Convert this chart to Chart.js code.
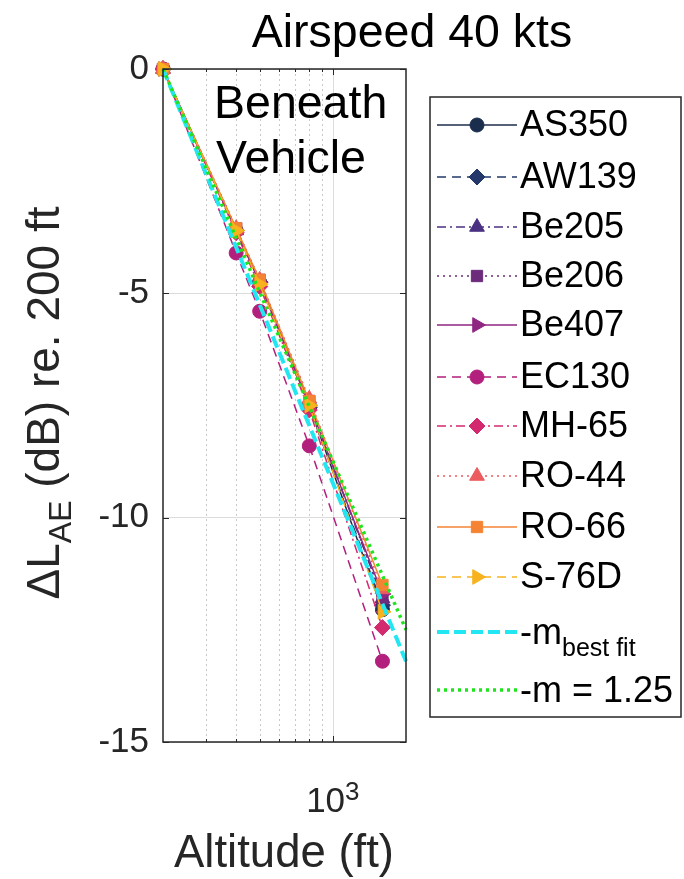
<!DOCTYPE html>
<html>
<head>
<meta charset="utf-8">
<title>Airspeed 40 kts</title>
<script src="https://cdn.jsdelivr.net/npm/chart.js@4.4.1/dist/chart.umd.min.js"></script>
<style>
  html, body { margin: 0; padding: 0; background: #fff; }
  #wrap { position: relative; width: 684px; height: 879px; }
</style>
</head>
<body>
<div id="wrap"><canvas id="chart" width="684" height="879"></canvas></div>
<script>
// Values (altitude in ft, level change in dB re. 200 ft)
const altitudes = [200, 400, 500, 800, 1600];
const vehicles = ['AS350', 'AW139', 'Be205', 'Be206', 'Be407', 'EC130', 'MH-65', 'RO-44', 'RO-66', 'S-76D'];

const as350 = [0, -3.6, -4.75, -7.5, -12.05];
const aw139 = [0, -3.6, -4.75, -7.55, -11.95];
const be205 = [0, -3.6, -4.75, -7.45, -11.8];
const be206 = [0, -3.55, -4.7, -7.4, -11.8];
const be407 = [0, -3.6, -4.75, -7.5, -11.7];
const ec130 = [0, -4.1, -5.4, -8.4, -13.2];
const mh65 = [0, -3.65, -4.85, -7.6, -12.45];
const ro44 = [0, -3.55, -4.7, -7.35, -11.6];
const ro66 = [0, -3.55, -4.7, -7.4, -11.5];
const s76d = [0, -3.6, -4.8, -7.5, -12.1];

// Reference slope lines (end points)
const fitAltitudes = [200, 2000];
const bestFit = [0, -13.2];
const slope125 = [0, -12.5];

// Axis ticks
const yTicks = [0, -5, -10, -15];
const xMinorGrid = [300, 400, 500, 600, 700, 800, 900];
const xMajorGrid = [1000];

(function() {
    'use strict';

    const FONT = '"Liberation Sans", Arial, Helvetica, sans-serif';
    const TEXT = '#262626';

    // Line styles MATLAB-like
    const SOLID = [];
    const DASH = [9, 6];
    const DASHDOT = [9, 4, 2, 4];
    const DOT = [2, 4];

    const seriesValues = [as350, aw139, be205, be206, be407, ec130, mh65, ro44, ro66, s76d];
    const colors = ['#1b2d4d', '#24386c', '#4b3182', '#6c2b7b', '#8f2682', '#b31f7c', '#d3296f', '#ec5b5d', '#f48434', '#f7b21d'];
    const dashes = [SOLID, DASH, DASHDOT, DOT, SOLID, DASH, DASHDOT, DOT, SOLID, DASH];
    const markers = [
        { style: 'circle', radius: 7, rotation: 0 },
        { style: 'rectRot', radius: 8, rotation: 0 },
        { style: 'triangle', radius: 8.5, rotation: 0 },
        { style: 'rect', radius: 8, rotation: 0 },
        { style: 'triangle', radius: 8.5, rotation: 90 },
        { style: 'circle', radius: 7, rotation: 0 },
        { style: 'rectRot', radius: 8, rotation: 0 },
        { style: 'triangle', radius: 8.5, rotation: 0 },
        { style: 'rect', radius: 8, rotation: 0 },
        { style: 'triangle', radius: 8.5, rotation: 90 }
    ];

    function toPoints(xs, ys) {
        return xs.map((x, i) => ({ x: x, y: ys[i] }));
    }

    const datasets = vehicles.map((name, i) => ({
        label: name,
        data: toPoints(altitudes, seriesValues[i]),
        borderColor: colors[i],
        backgroundColor: colors[i],
        borderWidth: 1.5,
        borderDash: dashes[i],
        pointStyle: markers[i].style,
        pointRadius: markers[i].radius,
        pointRotation: markers[i].rotation,
        pointBorderWidth: 1,
        order: 20 - i,
        clip: false
    }));

    datasets.push({
        label: 'best fit',
        data: toPoints(fitAltitudes, bestFit),
        borderColor: '#22e6f2',
        borderWidth: 4,
        borderDash: [12, 5],
        pointRadius: 0,
        order: 1,
        clip: false
    });
    datasets.push({
        label: 'm = 1.25',
        data: toPoints(fitAltitudes, slope125),
        borderColor: '#1fe51f',
        borderWidth: 3.5,
        borderDash: [3, 4],
        pointRadius: 0,
        order: 0,
        clip: false
    });

    // Draw a text made of pieces, some lowered (subscript) or raised (superscript)
    function drawRich(ctx, parts, x, y, align) {
        let total = 0;
        parts.forEach(p => {
            ctx.font = p.size + 'px ' + FONT;
            p.w = ctx.measureText(p.text).width;
            total += p.w;
        });
        let cx = align === 'center' ? x - total / 2 : x;
        ctx.textAlign = 'left';
        ctx.textBaseline = 'alphabetic';
        parts.forEach(p => {
            ctx.font = p.size + 'px ' + FONT;
            ctx.fillText(p.text, cx, y + (p.dy || 0));
            cx += p.w;
        });
    }

    const matlabLook = {
        id: 'matlabLook',
        beforeDatasetsDraw(chart) {
            const ctx = chart.ctx;
            const area = chart.chartArea;
            const xs = chart.scales.x;
            ctx.save();
            ctx.lineWidth = 1;
            ctx.strokeStyle = '#c8c8c8';
            ctx.setLineDash([2, 3]);
            xMinorGrid.forEach(v => {
                const px = Math.round(xs.getPixelForValue(v)) + 0.5;
                ctx.beginPath();
                ctx.moveTo(px, area.top);
                ctx.lineTo(px, area.bottom);
                ctx.stroke();
            });
            ctx.setLineDash([]);
            ctx.strokeStyle = '#dcdcdc';
            xMajorGrid.forEach(v => {
                const px = Math.round(xs.getPixelForValue(v)) + 0.5;
                ctx.beginPath();
                ctx.moveTo(px, area.top);
                ctx.lineTo(px, area.bottom);
                ctx.stroke();
            });
            ctx.restore();
        },
        afterDraw(chart) {
            const ctx = chart.ctx;
            const area = chart.chartArea;
            const xs = chart.scales.x;
            const ys = chart.scales.y;
            ctx.save();

            // axes box and inward ticks
            ctx.strokeStyle = '#262626';
            ctx.lineWidth = 1.5;
            ctx.strokeRect(area.left, area.top, area.right - area.left, area.bottom - area.top);
            ctx.lineWidth = 1;
            ctx.beginPath();
            yTicks.forEach(v => {
                const py = Math.round(ys.getPixelForValue(v)) + 0.5;
                ctx.moveTo(area.left, py); ctx.lineTo(area.left + 6, py);
                ctx.moveTo(area.right, py); ctx.lineTo(area.right - 6, py);
            });
            xMinorGrid.forEach(v => {
                const px = Math.round(xs.getPixelForValue(v)) + 0.5;
                ctx.moveTo(px, area.bottom); ctx.lineTo(px, area.bottom - 3);
                ctx.moveTo(px, area.top); ctx.lineTo(px, area.top + 3);
            });
            xMajorGrid.forEach(v => {
                const px = Math.round(xs.getPixelForValue(v)) + 0.5;
                ctx.moveTo(px, area.bottom); ctx.lineTo(px, area.bottom - 6);
                ctx.moveTo(px, area.top); ctx.lineTo(px, area.top + 6);
            });
            ctx.stroke();

            // title
            ctx.fillStyle = '#000';
            ctx.font = '46.5px ' + FONT;
            ctx.textAlign = 'center';
            ctx.textBaseline = 'alphabetic';
            ctx.fillText('Airspeed 40 kts', 412, 47);

            // annotation
            ctx.textAlign = 'left';
            ctx.font = '46.5px ' + FONT;
            ctx.fillText('Beneath', 214, 118);
            ctx.fillText('Vehicle', 216, 173);

            // x tick label 10^3
            ctx.fillStyle = TEXT;
            const x1000 = xs.getPixelForValue(1000);
            drawRich(ctx, [
                { text: '10', size: 35 },
                { text: '3', size: 26, dy: -12 }
            ], x1000, 812, 'center');

            // x title
            ctx.font = '45.5px ' + FONT;
            ctx.textAlign = 'center';
            ctx.fillText('Altitude (ft)', 284, 867);

            // y title, rotated
            ctx.save();
            ctx.translate(59, 403);
            ctx.rotate(-Math.PI / 2);
            drawRich(ctx, [
                { text: '\u0394L', size: 46 },
                { text: 'AE', size: 32, dy: 12 },
                { text: ' (dB) re. 200 ft', size: 46 }
            ], 0, 0, 'center');
            ctx.restore();

            // legend
            const box = { left: 430, top: 97, right: 681, bottom: 717 };
            ctx.fillStyle = '#fff';
            ctx.fillRect(box.left, box.top, box.right - box.left, box.bottom - box.top);
            ctx.strokeStyle = '#262626';
            ctx.lineWidth = 1.5;
            ctx.strokeRect(box.left, box.top, box.right - box.left, box.bottom - box.top);

            const rowY = [125, 177, 227, 276, 325, 377, 426, 476, 527, 577, 632, 690];
            const lineX0 = 437, lineX1 = 517, markX = 477, textX = 520;
            chart.data.datasets.forEach((ds, i) => {
                const y = rowY[i];
                ctx.strokeStyle = ds.borderColor;
                ctx.lineWidth = ds.borderWidth;
                ctx.setLineDash(ds.borderDash || []);
                ctx.beginPath();
                ctx.moveTo(lineX0, y);
                ctx.lineTo(lineX1, y);
                ctx.stroke();
                ctx.setLineDash([]);
                if (ds.pointRadius) {
                    ctx.fillStyle = ds.backgroundColor;
                    ctx.strokeStyle = ds.borderColor;
                    ctx.lineWidth = 1;
                    Chart.helpers.drawPoint(ctx, {
                        pointStyle: ds.pointStyle,
                        radius: ds.pointRadius,
                        rotation: ds.pointRotation,
                        borderWidth: 1
                    }, markX, y);
                }
                ctx.fillStyle = '#000';
                if (i < vehicles.length) {
                    ctx.font = '36px ' + FONT;
                    ctx.textAlign = 'left';
                    ctx.textBaseline = 'middle';
                    ctx.fillText(ds.label, textX, y + 1);
                } else if (ds.label === 'best fit') {
                    drawRich(ctx, [
                        { text: '-m', size: 36 },
                        { text: 'best fit', size: 25, dy: 12 }
                    ], textX, y + 12, 'left');
                } else {
                    drawRich(ctx, [{ text: '-m = 1.25', size: 36 }], textX, y + 12, 'left');
                }
            });

            ctx.restore();
        }
    };

    const ctx = document.getElementById('chart').getContext('2d');

    new Chart(ctx, {
        type: 'line',
        data: { datasets: datasets },
        options: {
            responsive: false,
            animation: false,
            events: [],
            layout: {
                padding: { top: 69, right: 278, left: 0, bottom: 0 }
            },
            plugins: {
                legend: { display: false },
                tooltip: { enabled: false }
            },
            elements: {
                line: { tension: 0 }
            },
            scales: {
                x: {
                    type: 'logarithmic',
                    min: 200,
                    max: 2000,
                    ticks: { display: false },
                    grid: { display: false },
                    border: { display: false },
                    afterFit: scale => { scale.height = 137; }
                },
                y: {
                    type: 'linear',
                    min: -15,
                    max: 0,
                    afterBuildTicks: scale => {
                        scale.ticks = yTicks.map(v => ({ value: v }));
                    },
                    ticks: {
                        color: TEXT,
                        padding: 14,
                        font: { family: FONT, size: 35 }
                    },
                    grid: {
                        color: '#dcdcdc',
                        drawTicks: false
                    },
                    border: { display: false },
                    afterFit: scale => { scale.width = 163; }
                }
            }
        },
        plugins: [matlabLook]
    });
})();
</script>
</body>
</html>
